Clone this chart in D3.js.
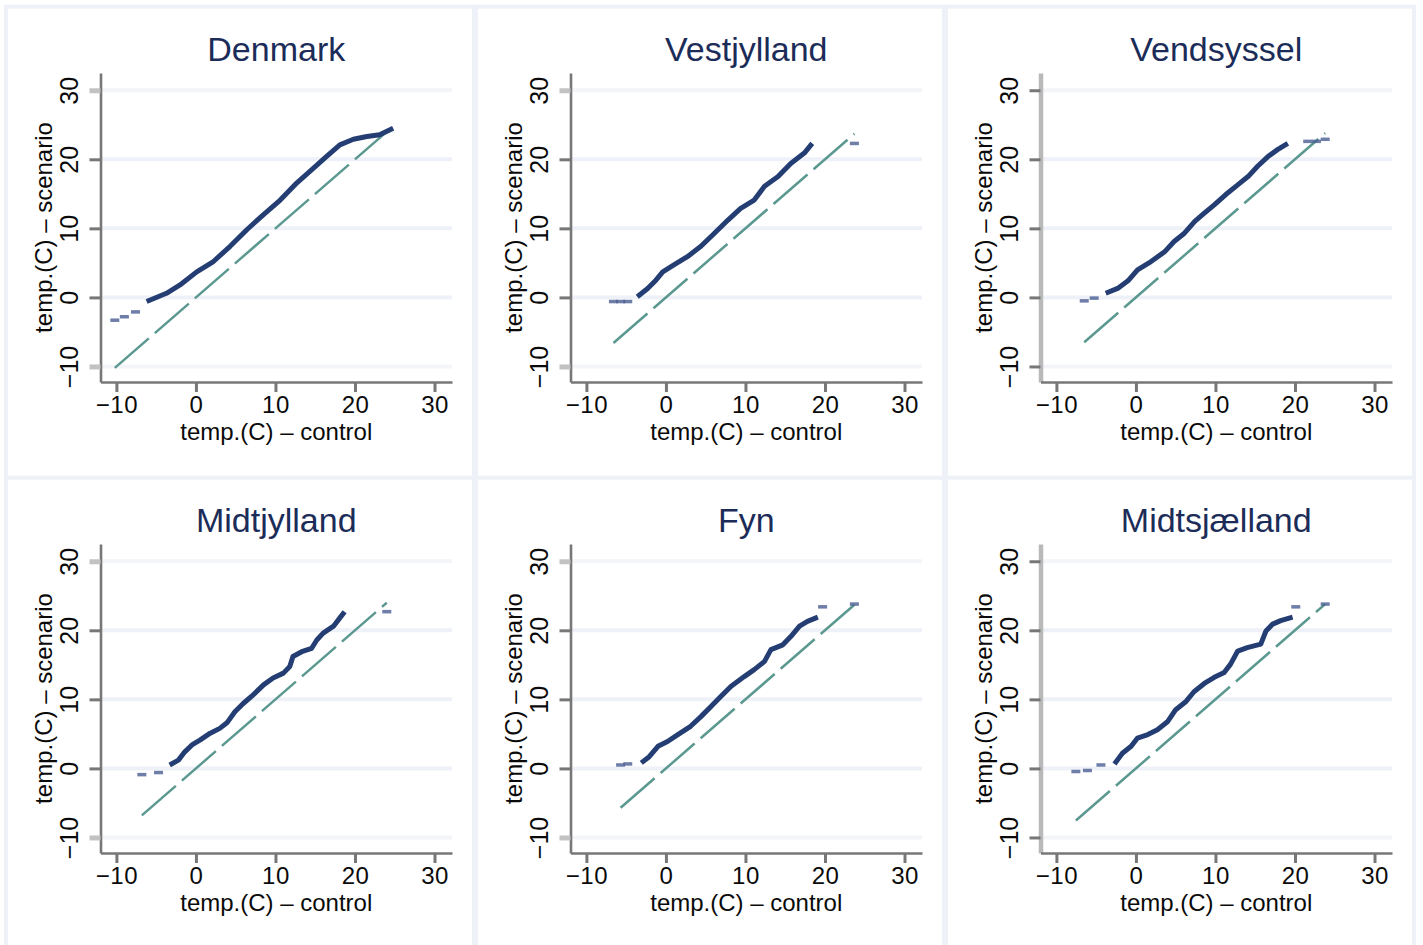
<!DOCTYPE html>
<html>
<head>
<meta charset="utf-8">
<script src="https://cdn.jsdelivr.net/npm/d3@7"></script>
<style>
  body { margin: 0; background: #ffffff; }
  svg { display: block; }
  text { font-family: "Liberation Sans", Arial, Helvetica, sans-serif; }
</style>
</head>
<body>
<svg id="chart" width="1423" height="945"></svg>
<script>
// Quantile-quantile plots of daily temperature: scenario vs. control, by region
const regionNames = ["Denmark", "Vestjylland", "Vendsyssel", "Midtjylland", "Fyn", "Midtsjælland"];
const xTicks = [-10, 0, 10, 20, 30];
const yTicks = [-10, 0, 10, 20, 30];
const xTitle = "temp.(C) – control";
const yTitle = "temp.(C) – scenario";

// Dense part of each quantile curve (control quantile, scenario quantile)
const denmarkControl  = [-6.2, -3.7, -2.0, 0.1, 2.2, 4.3, 6.4, 8.5, 10.6, 12.7, 14.75, 16.4, 18.1, 19.8, 21.5, 23.1, 24.8];
const denmarkScenario = [-0.6, 0.6, 1.8, 3.7, 5.2, 7.4, 9.8, 12.0, 14.1, 16.6, 18.7, 20.4, 22.1, 22.9, 23.3, 23.55, 24.5];
const vestjyllandControl  = [-3.6, -2.3, -1.26, -0.4, 1.0, 2.7, 4.4, 6.1, 7.8, 9.4, 11.1, 12.4, 14.1, 15.7, 17.4, 18.4];
const vestjyllandScenario = [0.1, 1.3, 2.5, 3.7, 4.7, 5.9, 7.4, 9.3, 11.2, 12.9, 14.1, 16.1, 17.5, 19.4, 20.9, 22.3];
const vendsysselControl  = [-3.8, -2.3, -1.0, 0.2, 1.9, 3.6, 4.8, 6.1, 7.4, 8.6, 9.85, 11.3, 12.8, 14.1, 15.3, 16.6, 17.8, 19.1];
const vendsysselScenario = [0.6, 1.3, 2.4, 4.0, 5.2, 6.6, 8.1, 9.3, 11.0, 12.2, 13.4, 14.9, 16.3, 17.5, 19.0, 20.4, 21.4, 22.3];
const midtjyllandControl  = [-3.3, -2.2, -1.4, -0.5, 0.5, 1.8, 3.0, 3.9, 4.9, 5.95, 7.2, 8.5, 9.7, 11.0, 11.8, 12.2, 13.3, 14.55, 15.2, 16.0, 17.3, 18.1, 18.7];
const midtjyllandScenario = [0.5, 1.2, 2.4, 3.4, 4.1, 5.1, 5.8, 6.6, 8.2, 9.4, 10.65, 12.1, 13.1, 13.8, 14.75, 16.2, 16.9, 17.4, 18.6, 19.6, 20.6, 21.8, 22.7];
const fynControl  = [-3.1, -2.1, -1.0, 0.2, 1.5, 3.1, 4.4, 5.7, 6.9, 8.2, 9.85, 11.1, 12.4, 13.2, 14.7, 15.7, 16.8, 17.8, 19.1];
const fynScenario = [0.8, 1.7, 3.2, 3.9, 4.9, 6.1, 7.5, 9.0, 10.4, 11.9, 13.3, 14.3, 15.5, 17.2, 17.9, 19.1, 20.6, 21.3, 21.9];
const midtsjaellandControl  = [-2.7, -1.7, -0.6, 0.2, 1.5, 2.7, 4.0, 5.0, 6.3, 7.3, 8.6, 9.85, 11.1, 11.9, 12.8, 14.0, 15.7, 16.35, 17.2, 18.2, 19.7];
const midtsjaellandScenario = [0.65, 2.2, 3.2, 4.4, 4.9, 5.6, 6.8, 8.5, 9.7, 11.1, 12.3, 13.2, 13.9, 15.1, 17.0, 17.5, 18.0, 19.9, 20.9, 21.4, 21.9];

// Sparse tail quantiles (plotted as separate markers)
const denmarkTailControl  = [-10.2, -9.0, -7.6];
const denmarkTailScenario = [-3.3, -2.8, -2.1];
const vestjyllandTailControl  = [-6.6, -5.7, -4.8, 23.7];
const vestjyllandTailScenario = [-0.6, -0.6, -0.6, 22.3];
const vendsysselTailControl  = [-6.5, -5.25, 21.6, 22.7, 23.8];
const vendsysselTailScenario = [-0.5, -0.1, 22.6, 22.6, 22.9];
const midtjyllandTailControl  = [-6.8, -4.7, 24.0];
const midtjyllandTailScenario = [-0.9, -0.6, 22.7];
const fynTailControl  = [-5.7, -4.8, 19.7, 23.7];
const fynTailScenario = [0.5, 0.65, 23.4, 23.8];
const midtsjaellandTailControl  = [-7.55, -6.1, -4.4, 20.1, 23.8];
const midtsjaellandTailScenario = [-0.45, -0.3, 0.5, 23.4, 23.8];

const panels = [
  [denmarkControl, denmarkScenario, denmarkTailControl, denmarkTailScenario],
  [vestjyllandControl, vestjyllandScenario, vestjyllandTailControl, vestjyllandTailScenario],
  [vendsysselControl, vendsysselScenario, vendsysselTailControl, vendsysselTailScenario],
  [midtjyllandControl, midtjyllandScenario, midtjyllandTailControl, midtjyllandTailScenario],
  [fynControl, fynScenario, fynTailControl, fynTailScenario],
  [midtsjaellandControl, midtsjaellandScenario, midtsjaellandTailControl, midtsjaellandTailScenario]
].map((p, i) => ({
  name: regionNames[i],
  main: p[0].map((c, j) => [c, p[1][j]]),
  tail: p[2].map((c, j) => [c, p[3][j]])
}));

// Layout
const panelW = 470, panelH = 471;
const plot = { left: 100.5, right: 452, top: 73, bottom: 382 };
const colors = {
  navy: "#243e73", tail: "#4a5e92", teal: "#5b9890", grid: "#eef1f7",
  gridEdge: "#f4f5f9", axis: "#777777", title: "#1c2c58", text: "#0a0a0a", frame: "#eef1f7"
};

const x = d3.scaleLinear().domain([-12, 32.2]).range([plot.left, plot.right]);
const y = d3.scaleLinear().domain([-12.25, 32.5]).range([plot.bottom, plot.top]);
const fmt = v => (v < 0 ? "\u2212" + Math.abs(v) : String(v));

const svg = d3.select("#chart");

panels.forEach((p, i) => {
  const col = i % 3, row = Math.floor(i / 3);
  const g = svg.append("g").attr("transform", `translate(${col * panelW},${row * panelH})`);

  // panel frame
  g.append("rect")
    .attr("x", 6).attr("y", 6.7)
    .attr("width", 468).attr("height", 471.3)
    .attr("fill", "#ffffff").attr("stroke", colors.frame).attr("stroke-width", 4);

  // horizontal grid
  g.append("g").selectAll("line").data(yTicks).join("line")
    .attr("x1", plot.left).attr("x2", plot.right)
    .attr("y1", d => y(d)).attr("y2", d => y(d))
    .attr("stroke", d => (d === yTicks[0] || d === yTicks[yTicks.length - 1]) ? colors.gridEdge : colors.grid)
    .attr("stroke-width", 4);

  // y axis
  const yAxis = g.append("g").attr("transform", `translate(${plot.left},0)`)
    .call(d3.axisLeft(y).tickValues(yTicks).tickSize(11).tickSizeOuter(0).tickFormat(fmt));
  yAxis.select(".domain")
    .attr("stroke", col === 2 ? "#b9b9b9" : colors.axis)
    .attr("stroke-width", col === 2 ? 4.5 : 2.6);
  yAxis.selectAll(".tick line")
    .attr("stroke", d => (col < 2 && (d === 30 || d === -10)) ? "#c2c2c2" : colors.axis)
    .attr("stroke-width", d => (col < 2 && (d === 30 || d === -10)) ? 5 : 3);
  yAxis.selectAll(".tick text")
    .attr("transform", "rotate(-90)")
    .attr("x", 0).attr("y", -23).attr("dy", 0)
    .attr("text-anchor", "middle")
    .attr("fill", colors.text)
    .style("font-size", "25px");

  // x axis
  const xAxis = g.append("g").attr("transform", `translate(0,${plot.bottom})`)
    .call(d3.axisBottom(x).tickValues(xTicks).tickSize(10).tickSizeOuter(0).tickFormat(fmt));
  xAxis.select(".domain").attr("stroke", colors.axis).attr("stroke-width", 2.6);
  xAxis.selectAll(".tick line").attr("stroke", colors.axis).attr("stroke-width", 3);
  xAxis.selectAll(".tick text")
    .attr("y", 31).attr("dy", 0)
    .attr("fill", colors.text)
    .style("font-size", "24px")
    .style("letter-spacing", "0.5px");

  // axis titles
  g.append("text")
    .attr("x", (plot.left + plot.right) / 2).attr("y", 440)
    .attr("text-anchor", "middle").attr("fill", colors.text)
    .style("font-size", "24px")
    .text(xTitle);
  g.append("text")
    .attr("transform", `translate(52,${(plot.top + plot.bottom) / 2}) rotate(-90)`)
    .attr("text-anchor", "middle").attr("fill", colors.text)
    .style("font-size", "24px")
    .text(yTitle);

  // panel title
  g.append("text")
    .attr("x", (plot.left + plot.right) / 2).attr("y", 61)
    .attr("text-anchor", "middle").attr("fill", colors.title)
    .style("font-size", "34px")
    .text(p.name);

  // reference line y = x over the control range
  const all = p.main.concat(p.tail);
  const [lo, hi] = d3.extent(all, d => d[0]);
  g.append("path")
    .attr("d", d3.line().x(d => x(d)).y(d => y(d))([lo, hi]))
    .attr("fill", "none").attr("stroke", colors.teal)
    .attr("stroke-width", 2.5)
    .attr("stroke-dasharray", "45,8");

  // dense part of the quantile curve
  g.append("path")
    .attr("d", d3.line().x(d => x(d[0])).y(d => y(d[1]))(p.main))
    .attr("fill", "none").attr("stroke", colors.navy)
    .attr("stroke-width", 5).attr("stroke-linejoin", "round");

  // sparse tail quantiles
  g.append("g").selectAll("rect").data(p.tail).join("rect")
    .attr("x", d => x(d[0]) - 4.5).attr("y", d => y(d[1]) - 1.75)
    .attr("width", 9).attr("height", 3.5)
    .attr("fill", colors.tail).attr("opacity", 0.8);
});
</script>
</body>
</html>
